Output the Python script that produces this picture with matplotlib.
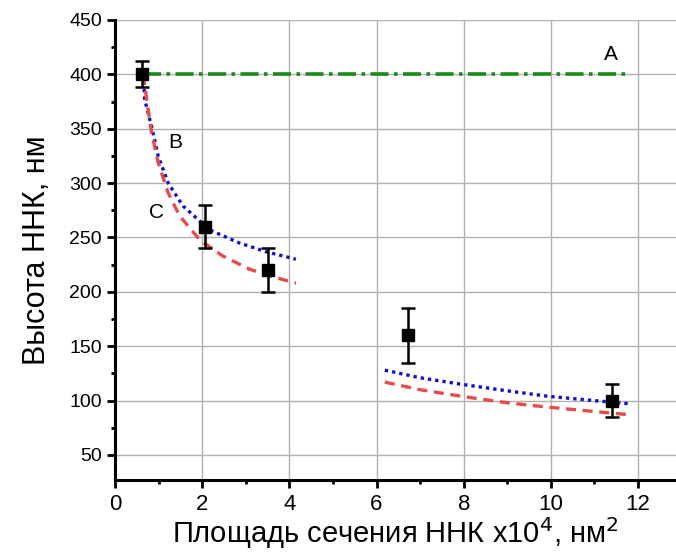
import numpy as np
import matplotlib.pyplot as plt
from matplotlib.ticker import MultipleLocator

plt.rcParams['font.family'] = ['Liberation Sans', 'DejaVu Sans']

# Experimental points
x_exp = [0.62, 2.07, 3.5, 6.73, 11.4]
y_exp = [400, 260, 220, 160, 100]
err_exp = [12, 20, 20, 25, 15]

# Curve A (constant height)
x_a = [0.65, 11.8]
y_a = [400, 400]

# Curve B (blue dotted), two branches
x_b1 = [0.65, 0.68, 0.84, 0.99, 1.22, 1.56, 2.17, 2.85, 3.46, 4.15]
y_b1 = [400, 377, 352, 325, 300, 279, 257, 245, 237, 230]
x_b2 = [6.19, 7.0, 7.95, 9.0, 9.93, 11.0, 11.83]
y_b2 = [128, 121, 115, 109, 104, 100, 97]

# Curve C (red dashed)
x_c1 = [0.65, 0.75, 0.84, 0.99, 1.22, 1.48, 1.94, 2.47, 3.08, 3.61, 4.15]
y_c1 = [400, 370, 346, 319, 291, 270, 248, 233, 221, 214, 208]
x_c2 = [6.19, 7.0, 7.95, 9.0, 9.93, 11.0, 11.8]
y_c2 = [117, 110, 104, 98, 94, 90, 87]

fig = plt.figure(figsize=(6.76, 5.57), dpi=100)
ax = fig.add_axes([115 / 676, 77 / 557, (676 - 115) / 676, (480 - 20) / 557])

ax.plot(x_a, y_a, color='#1a8a1a', linestyle=(0, (5, 1.5, 1, 1.5)), linewidth=2.6, zorder=3)
ax.plot(x_b1, y_b1, color='#1010cc', linestyle=(0, (1, 1.2)), linewidth=2.4, zorder=3)
ax.plot(x_b2, y_b2, color='#1010cc', linestyle=(0, (1, 1.2)), linewidth=2.4, zorder=3)
ax.plot(x_c1, y_c1, color='#e84a4a', linestyle=(0, (3, 2)), linewidth=2.4, zorder=3)
ax.plot(x_c2, y_c2, color='#e84a4a', linestyle=(0, (3, 2)), linewidth=2.4, zorder=3)

ax.errorbar(x_exp, y_exp, yerr=err_exp, fmt='s', color='black', markersize=9,
            ecolor='black', elinewidth=1.8, capsize=5, capthick=1.8, zorder=4)

ax.text(11.37, 418, 'A', fontsize=15, ha='center', va='center')
ax.text(1.39, 337, 'B', fontsize=15, ha='center', va='center')
ax.text(0.96, 273, 'C', fontsize=15, ha='center', va='center')

ax.set_xlim(0, 12.87)
ax.set_ylim(27, 450)
ax.xaxis.set_major_locator(MultipleLocator(2))
ax.xaxis.set_minor_locator(MultipleLocator(1))
ax.yaxis.set_major_locator(MultipleLocator(50))
ax.yaxis.set_minor_locator(MultipleLocator(25))
ax.set_yticks([50, 100, 150, 200, 250, 300, 350, 400, 450])

ax.grid(True, which='major', color='#b0b0b0', linewidth=1.0)
ax.set_axisbelow(True)
for s in ['top', 'right']:
    ax.spines[s].set_visible(False)
for s in ['left', 'bottom']:
    ax.spines[s].set_linewidth(2.2)

ax.tick_params(which='major', direction='out', length=6, width=2)
ax.tick_params(which='minor', direction='out', length=3, width=2)
ax.tick_params(axis='y', labelsize=14)
ax.tick_params(axis='x', labelsize=16, pad=4)

ax.set_xlabel('Площадь сечения ННК x10$^4$, нм$^2$', fontsize=21, labelpad=0)
ax.set_ylabel('Высота ННК, нм', fontsize=22, labelpad=12)

fig.savefig('out.png', dpi=100)
